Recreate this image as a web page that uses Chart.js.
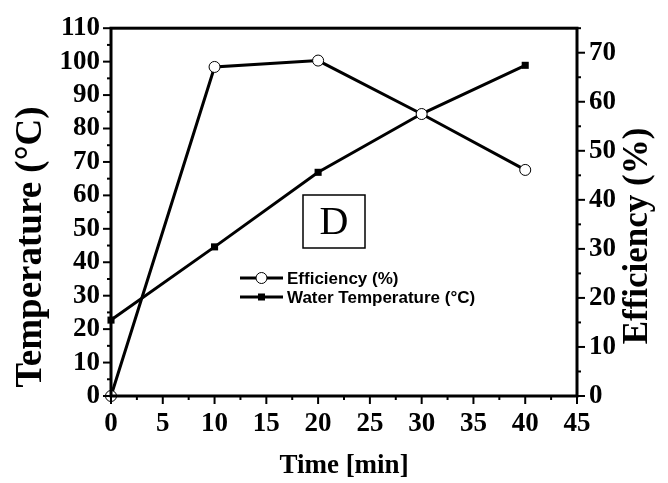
<!DOCTYPE html>
<html>
<head>
<meta charset="utf-8">
<script src="https://cdn.jsdelivr.net/npm/chart.js@4.4.1/dist/chart.umd.min.js"></script>
<style>
  html, body { margin: 0; padding: 0; background: #fff; }
  canvas { display: block; }
</style>
</head>
<body>
<canvas id="effChart" width="668" height="483"></canvas>
<script>
// data
const times = [0, 10, 20, 30, 40];                 // min
const efficiency = [0, 67.1, 68.4, 57.5, 46.1];    // %
const waterTemp = [22.7, 44.6, 66.9, 84.4, 98.9];  // °C
const seriesLabels = ['Efficiency (%)', 'Water Temperature (°C)'];
const panelLetter = 'D';

const serif = '"Liberation Serif", "Times New Roman", serif';
const sans = '"Liberation Sans", Arial, sans-serif';

// frame, tick marks, axis titles, panel tag and legend
const decorations = {
  id: 'decorations',
  afterDraw(chart) {
    const ctx = chart.ctx;
    const a = chart.chartArea;
    ctx.save();
    ctx.strokeStyle = '#000';
    ctx.fillStyle = '#000';

    // tick marks
    ctx.lineWidth = 2;
    const x = chart.scales.x, yl = chart.scales.y, yr = chart.scales.y1;
    x.ticks.forEach(t => {
      const px = x.getPixelForValue(t.value);
      const len = t.value % 5 === 0 ? 8 : 4;
      ctx.beginPath(); ctx.moveTo(px, a.bottom); ctx.lineTo(px, a.bottom + len); ctx.stroke();
    });
    yl.ticks.forEach(t => {
      const py = yl.getPixelForValue(t.value);
      const len = t.value % 10 === 0 ? 8 : 4;
      ctx.beginPath(); ctx.moveTo(a.left, py); ctx.lineTo(a.left - len, py); ctx.stroke();
    });
    yr.ticks.forEach(t => {
      const py = yr.getPixelForValue(t.value);
      const len = t.value % 10 === 0 ? 8 : 4;
      ctx.beginPath(); ctx.moveTo(a.right, py); ctx.lineTo(a.right + len, py); ctx.stroke();
    });

    // frame
    ctx.lineWidth = 3;
    ctx.strokeRect(a.left, a.top, a.right - a.left, a.bottom - a.top);

    // axis titles
    ctx.textAlign = 'center';
    ctx.textBaseline = 'middle';
    ctx.font = 'bold 37px ' + serif;
    ctx.save(); ctx.translate(31, 247); ctx.rotate(-Math.PI / 2);
    ctx.fillText('Temperature (°C)', 0, 0); ctx.restore();
    ctx.font = 'bold 35px ' + serif;
    ctx.save(); ctx.translate(638, 236); ctx.rotate(-Math.PI / 2);
    ctx.fillText('Efficiency (%)', 0, 0); ctx.restore();
    ctx.font = 'bold 27px ' + serif;
    ctx.fillText('Time [min]', (a.left + a.right) / 2, 466);

    // panel tag
    ctx.lineWidth = 1.5;
    ctx.strokeRect(303, 195, 62, 53);
    ctx.font = '40px ' + serif;
    ctx.fillText(panelLetter, 334, 223);

    // legend
    ctx.textAlign = 'left';
    ctx.font = 'bold 17px ' + sans;
    const rows = [278, 297];
    chart.data.datasets.forEach((ds, i) => {
      const y = rows[i];
      ctx.lineWidth = 3;
      ctx.beginPath(); ctx.moveTo(240, y); ctx.lineTo(283, y); ctx.stroke();
      ctx.lineWidth = 1;
      if (ds.pointStyle === 'circle') {
        ctx.beginPath(); ctx.arc(261.5, y, 5.5, 0, Math.PI * 2);
        ctx.fillStyle = '#fff'; ctx.fill(); ctx.stroke();
      } else {
        ctx.fillStyle = '#000';
        ctx.fillRect(258, y - 3.5, 7, 7);
      }
      ctx.fillStyle = '#000';
      ctx.fillText(ds.label, 287, y + 1);
    });
    ctx.restore();
  }
};

const effChart = new Chart(document.getElementById('effChart'), {
  type: 'line',
  data: {
    datasets: [
      {
        label: seriesLabels[0],
        data: times.map((t, i) => ({ x: t, y: efficiency[i] })),
        yAxisID: 'y1',
        borderColor: '#000',
        borderWidth: 3,
        pointStyle: 'circle',
        pointRadius: 5.5,
        pointBackgroundColor: '#fff',
        pointBorderColor: '#000',
        pointBorderWidth: 1,
        tension: 0,
        clip: false
      },
      {
        label: seriesLabels[1],
        data: times.map((t, i) => ({ x: t, y: waterTemp[i] })),
        yAxisID: 'y',
        borderColor: '#000',
        borderWidth: 3,
        pointStyle: 'rect',
        pointRadius: 5,
        pointBackgroundColor: '#000',
        pointBorderColor: '#000',
        pointBorderWidth: 0,
        tension: 0,
        clip: false
      }
    ]
  },
  options: {
    responsive: false,
    animation: false,
    devicePixelRatio: 1,
    layout: { padding: { top: 23, left: 0, right: 0, bottom: 0 } },
    plugins: { legend: { display: false }, tooltip: { enabled: false } },
    scales: {
      x: {
        type: 'linear',
        min: 0, max: 45,
        grid: { display: false, drawTicks: false },
        border: { display: false },
        ticks: {
          stepSize: 2.5,
          autoSkip: false,
          maxRotation: 0,
          padding: 12,
          color: '#000',
          font: { family: serif, size: 27, weight: 'bold' },
          callback: v => (v % 5 === 0 ? v : '')
        },
        afterFit: s => { s.height = 87; }
      },
      y: {
        position: 'left',
        min: 0, max: 110,
        grid: { display: false, drawTicks: false },
        border: { display: false },
        ticks: {
          stepSize: 5,
          autoSkip: false,
          padding: 11,
          color: '#000',
          font: { family: serif, size: 27, weight: 'bold' },
          callback: v => (v % 10 === 0 ? v : '')
        },
        afterFit: s => { s.width = 111; }
      },
      y1: {
        position: 'right',
        min: 0, max: 75,
        grid: { display: false, drawTicks: false },
        border: { display: false },
        ticks: {
          stepSize: 5,
          autoSkip: false,
          padding: 12,
          color: '#000',
          font: { family: serif, size: 27, weight: 'bold' },
          callback: v => (v % 10 === 0 ? v : '')
        },
        afterFit: s => { s.width = 91; }
      }
    }
  },
  plugins: [decorations]
});
</script>
</body>
</html>
